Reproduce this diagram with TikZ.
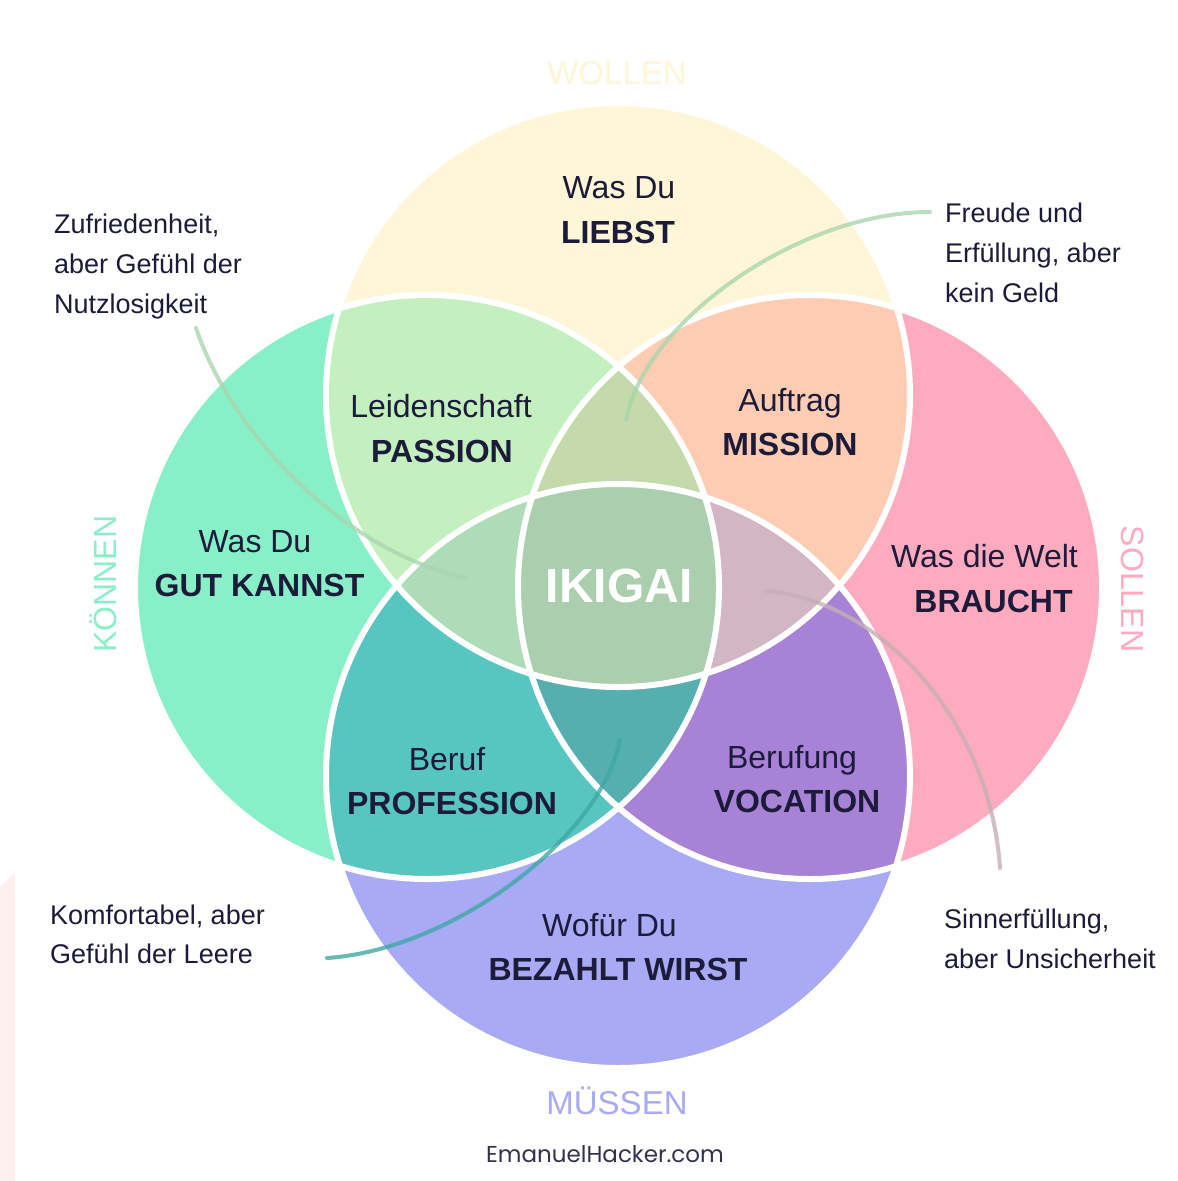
\documentclass[tikz,border=0pt]{standalone}
\usepackage{fontspec}
\setmainfont{Liberation Sans}
\newfontfamily\popfont{Poppins}
\definecolor{cT}{HTML}{FEF6D6}
\definecolor{cL}{HTML}{88F0C8}
\definecolor{cR}{HTML}{FFABBF}
\definecolor{cB}{HTML}{A8AAF5}
\definecolor{cTL}{HTML}{C3F0BE}
\definecolor{cTR}{HTML}{FECCB3}
\definecolor{cLB}{HTML}{57C5C0}
\definecolor{cRB}{HTML}{A882D6}
\definecolor{cTLR}{HTML}{C5DAAA}
\definecolor{cTLB}{HTML}{AEDCB9}
\definecolor{cTRB}{HTML}{D3B6C3}
\definecolor{cLRB}{HTML}{56AFAF}
\definecolor{cAll}{HTML}{ABCEAF}
\definecolor{ink}{HTML}{1C1B3A}
\definecolor{pinkbg}{HTML}{FFF0F0}
\definecolor{lnGreen}{HTML}{A9D6AE}
\definecolor{lnTeal}{HTML}{3FA8A6}
\definecolor{lnRose}{HTML}{C7AEB6}
\tikzset{
  reg/.style={font=\fontsize{32}{38}\selectfont, text=ink, inner sep=0pt, anchor=base},
  bld/.style={font=\fontsize{32}{38}\selectfont\bfseries, text=ink, inner sep=0pt, anchor=base},
  note/.style={font=\fontsize{27}{32}\selectfont, text=ink, inner sep=0pt, anchor=base west},
  side/.style={font=\fontsize{33}{38}\selectfont, inner sep=0pt, anchor=base},
  ring/.style={draw=white, line width=6pt},
  link/.style={line width=4pt, opacity=0.8, line cap=round}
}
\def\cirT{(618,395) circle [radius=292pt]}
\def\cirL{(427,587) circle [radius=292pt]}
\def\cirR{(810,587) circle [radius=292pt]}
\def\cirB{(618,776) circle [radius=292pt]}
\begin{document}
\begin{tikzpicture}[x=1pt,y=-1pt]
\useasboundingbox (0,0) rectangle (1178,1181);
\fill[white] (0,0) rectangle (1178,1181);
\fill[pinkbg] (0,887) -- (15,872) -- (15,1181) -- (0,1181) -- cycle;
% single circles
\fill[cT] \cirT;
\fill[cL] \cirL;
\fill[cR] \cirR;
\fill[cB] \cirB;
% pairs
\begin{scope}\clip \cirT; \fill[cTL] \cirL; \end{scope}
\begin{scope}\clip \cirT; \fill[cTR] \cirR; \end{scope}
\begin{scope}\clip \cirL; \fill[cLB] \cirB; \end{scope}
\begin{scope}\clip \cirR; \fill[cRB] \cirB; \end{scope}
% triples
\begin{scope}\clip \cirT; \clip \cirL; \fill[cTLR] \cirR; \end{scope}
\begin{scope}\clip \cirT; \clip \cirL; \fill[cTLB] \cirB; \end{scope}
\begin{scope}\clip \cirT; \clip \cirR; \fill[cTRB] \cirB; \end{scope}
\begin{scope}\clip \cirL; \clip \cirR; \fill[cLRB] \cirB; \end{scope}
% all four
\begin{scope}\clip \cirT; \clip \cirL; \clip \cirR; \fill[cAll] \cirB; \end{scope}
% white outlines
\draw[ring] \cirT;
\draw[ring] \cirL;
\draw[ring] \cirR;
\draw[ring] \cirB;

% side words
\node[side, text=cT] (wollen) at (617,84.5) {WOLLEN};
\node[side, text=cB] (muessen) at (617,1114) {MÜSSEN};
\node[side, text=cL, rotate=90, font=\fontsize{32}{38}\selectfont] (koennen) at (116,584) {KÖNNEN};
\node[side, text=cR, rotate=-90, font=\fontsize{32}{38}\selectfont] (sollen) at (1121,589) {SOLLEN};

% region labels
\node[reg] (t1) at (619,198.5) {Was Du};
\node[bld] (t2) at (618,243.5) {LIEBST};
\node[reg] (p1) at (441,417.5) {Leidenschaft};
\node[bld] (p2) at (442,462.5) {PASSION};
\node[reg] (m1) at (790,411.5) {Auftrag};
\node[bld] (m2) at (790,455.5) {MISSION};
\node[reg] (l1) at (255,552.5) {Was Du};
\node[bld] (l2) at (259.5,596.5) {GUT KANNST};
\node[reg] (r1) at (984.5,567.5) {Was die Welt};
\node[bld] (r2) at (993.5,612.5) {BRAUCHT};
\node[reg] (f1) at (447,770.5) {Beruf};
\node[bld] (f2) at (452,814.5) {PROFESSION};
\node[reg] (v1) at (792,768.5) {Berufung};
\node[bld] (v2) at (797,812.5) {VOCATION};
\node[reg] (b1) at (609.5,936.5) {Wofür Du};
\node[bld] (b2) at (618,980.5) {BEZAHLT WIRST};
\node[bld, text=white, font=\fontsize{48}{54}\selectfont\bfseries] (iki) at (619,602) {IKIGAI};

% notes
\node[note] (z1) at (54,233) {Zufriedenheit,};
\node[note] (z2) at (54,273) {aber Gefühl der};
\node[note] (z3) at (54,313) {Nutzlosigkeit};
\node[note] (e1) at (945,222) {Freude und};
\node[note] (e2) at (945,262) {Erfüllung, aber};
\node[note] (e3) at (945,302) {kein Geld};
\node[note] (k1) at (50,924) {Komfortabel, aber};
\node[note] (k2) at (50,963) {Gefühl der Leere};
\node[note] (s1) at (944,928) {Sinnerfüllung,};
\node[note] (s2) at (944,968) {aber Unsicherheit};

\node[inner sep=0pt, anchor=base, text=ink!90, font=\popfont\fontsize{23}{28}\selectfont] (site) at (605,1162) {EmanuelHacker.com};

% connector end points
\coordinate (zs) at (196,328);
\coordinate (ze) at (466,578);
\coordinate (es) at (930,212);
\coordinate (ee) at (626,420);
\coordinate (ks) at (327,958);
\coordinate (ke) at (620,740);
\coordinate (ss) at (1000,868);
\coordinate (se) at (766,591);

\draw[link, lnGreen] (zs) .. controls (230,430) and (340,550) .. (ze);
\draw[link, lnGreen] (es) .. controls (800,212) and (645,320) .. (ee);
\draw[link, lnTeal] (ks) .. controls (450,950) and (600,840) .. (ke);
\draw[link, lnRose] (ss) .. controls (990,720) and (880,600) .. (se);
\end{tikzpicture}
\end{document}
